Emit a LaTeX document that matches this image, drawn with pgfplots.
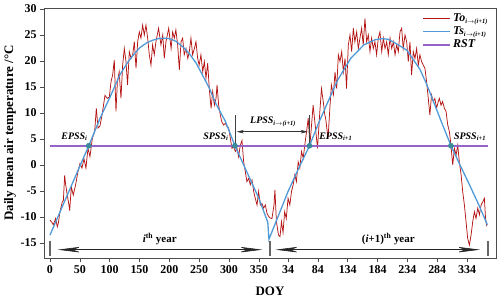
\documentclass[border=0pt]{standalone}
\usepackage{pgfplots}
\pgfplotsset{compat=1.18}
\usepackage{fontspec}
\setmainfont{Liberation Serif}
\usetikzlibrary{arrows.meta}
\definecolor{tored}{RGB}{180,20,20}
\definecolor{tsblue}{RGB}{80,155,215}
\definecolor{refline}{RGB}{150,100,200}
\definecolor{dotteal}{RGB}{58,138,154}
\newcommand{\sub}[1]{\textsubscript{\fontsize{6.5}{7}\selectfont #1}}
\begin{document}
\begin{tikzpicture}
\begin{axis}[
  at={(0,0)}, anchor=south west,
  scale only axis, width=452bp, height=250bp,
  xmin=-10, xmax=747.5, ymin=-17.9, ymax=30.2,
  clip=false,
  axis line style={draw=black!70, line width=0.8pt},
  tick align=outside, major tick length=4bp,
  tick style={black!70, line width=0.6pt},
  xtick pos=bottom, ytick pos=left,
  xtick={0,50,100,150,200,250,300,350,399,449,499,549,599,649,699},
  xticklabels={0,50,100,150,200,250,300,350,34,84,134,184,234,284,334},
  ytick={-15,-10,-5,0,5,10,15,20,25,30},
  ticklabel style={font=\fontsize{12}{14}\selectfont\bfseries},
  yticklabel style={/pgf/number format/assume math mode=true},
  xlabel={DOY},
  xlabel style={at={(axis description cs:0.5,-0.132)}, anchor=center, font=\fontsize{13}{15}\selectfont\bfseries},
  ylabel={Daily mean air temperature /°C},
  ylabel style={at={(axis description cs:-0.075,0.5)}, anchor=center, font=\fontsize{13}{15}\selectfont\bfseries},
  legend style={draw=none, fill=none, at={(axis description cs:0.83,0.995)}, anchor=north west,
    font=\fontsize{12}{14}\selectfont\bfseries\itshape, row sep=0pt},
  legend cell align=left,
]
\addlegendimage{legend image code/.code={\draw[tored, line width=1.1pt] (0bp,0bp) -- (27bp,0bp);}}
\addlegendentry{To\sub{i$\to$(i+1)}}
\addlegendimage{legend image code/.code={\draw[tsblue, line width=1.6pt] (0bp,0bp) -- (27bp,0bp);}}
\addlegendentry{Ts\sub{i$\to$(i+1)}}
\addlegendimage{legend image code/.code={\draw[refline, line width=1.8pt] (0bp,0bp) -- (27bp,0bp);}}
\addlegendentry{RST}
% observed daily temperature To
\addplot[draw=tored, line width=0.75pt, forget plot] coordinates {
(0,-10.6) (3,-11.0) (5.6,-11.5) (9.5,-10.3) (12.3,-11.9) (14,-11.2) (16.8,-9.0) (20.7,-7.1) (22.5,-6.8)
(24.6,-2.0) (26,-3.5) (28,-5.1) (31.8,-7.7) (33,-8.8) (35.8,-4.2) (39,-5.8) (43,-3.8) (46.9,-1.3)
(50.3,0.3) (53.6,-0.6) (57,1.2) (60.3,-0.6) (63.7,3.2) (67,1.6) (71,5.1) (74.9,6.4) (77.7,10.9)
(80.5,7.1) (83.8,7.5) (87.8,10.0) (92.2,13.4) (96,12.8) (99.5,13.1) (102.3,16.0) (105,17.3) (107.8,20.2)
(110.6,10.3) (113,16.0) (116,17.9) (119,12.8) (121.8,19.2) (124.6,22.4) (127.4,19.9) (130,15.4) (133,21.8)
(135.9,20.5) (138.6,21.2) (141.4,23.7) (144.2,18.6) (147,23.7) (149.7,25.6) (152.5,24.4) (155.3,26.9)
(158.1,25.0) (160.9,26.9) (163.7,24.4) (166.5,21.2) (169.3,19.2) (172,23.1) (174.8,21.2) (177.6,23.7)
(182,26.3) (186,23.1) (189,25.0) (191.6,20.5) (194.4,23.7) (199,26.3) (203,22.4) (205.6,25.6) (208.4,24.4)
(211,26.0) (214,23.1) (216.8,18.3) (219.6,23.7) (222.4,24.4) (225,21.2) (228,22.4) (231,20.5) (233.5,21.8)
(236.3,24.4) (239,21.2) (242,22.4) (244.7,23.7) (247.5,20.5) (250,19.2) (253,21.2) (256,17.9) (258.7,19.9)
(261.5,16.7) (264.3,19.6) (267,14.7) (270,10.9) (272.7,14.1) (275.5,11.5) (278.3,12.8) (280,15.4)
(282.7,11.5) (285.5,9.6) (288,8.3) (291,7.7) (293.9,8.0) (296.7,7.4) (299.5,7.1) (302.3,5.1) (305,3.2)
(307.9,3.5) (310.7,2.6) (313.5,3.2) (316,1.6) (319,3.8) (321.8,4.7) (324.6,0.6) (327.4,-1.3) (330,-3.2)
(333,-2.6) (335.8,-3.8) (338.6,-2.9) (341.4,-5.1) (344,-6.4) (347,-7.7) (349.7,-5.1) (352.5,-7.7)
(355.3,-7.4) (358,-8.3) (361,-7.7) (363.7,-9.3) (366.5,-9.9)
(369,-10.2) (372,-10.3) (375.5,-7.7) (377,-4.8) (379.5,-10.9) (383,-13.5) (385.5,-13.8) (388,-10.9)
(390.6,-13.0) (393.3,-9.0) (396,-10.3) (399,-6.4) (402,-7.7) (404.8,-5.1) (407.6,-3.8) (410.3,-1.9)
(413,-3.2) (416,0.6) (418.7,-0.6) (421.6,2.6) (424.4,1.3) (427,3.8) (430,6.4) (432.8,9.0) (435.6,3.8)
(438.4,7.7) (441,11.5) (443.9,8.3) (448.4,3.2) (452.3,10.3) (455,14.7) (458,12.2) (460.7,9.6) (462,9.0)
(466,5.1) (469.4,11.5) (471.6,15.4) (475,13.5) (477.7,17.9) (480.5,14.7) (483.3,21.2) (486,19.9)
(488.9,21.8) (491.7,17.9) (494.5,20.5) (497,14.7) (500,23.1) (502.8,25.0) (505.6,21.8) (508.4,26.3)
(511,23.7) (514,25.6) (516.7,22.4) (519.5,24.4) (522.3,26.3) (525,23.1) (527.9,28.2) (530.7,23.7)
(533.5,25.0) (536.3,21.8) (539,24.4) (541.8,22.4) (544.6,23.7) (547.4,21.2) (550.2,24.4) (553,25.6)
(556,21.8) (558.7,24.4) (561.5,22.4) (564.3,23.7) (567,21.2) (569.9,24.4) (572.7,22.4) (575.5,23.7)
(578.3,21.2) (581,23.1) (583.8,21.8) (586.6,25.6) (589.4,26.3) (592,22.4) (595,25.0) (597.8,23.7)
(600.5,19.9) (603.3,23.7) (606,17.3) (608.9,21.8) (611.7,20.5) (614.5,22.4) (617.3,19.2) (620,21.2)
(622.8,19.9) (625.6,19.2) (628.4,18.6) (631.2,16.0) (634,12.8) (636.7,9.6) (639.5,13.5) (642.3,12.2)
(645,12.8) (647.9,10.9) (650.7,12.2) (652.6,12.8) (655.4,11.5) (658,12.2) (661,10.9) (663.8,10.3)
(666.6,7.7) (669.4,6.4) (672,3.8) (675,0) (677.8,3.2) (680.6,1.9) (683.4,3.8) (686,0.6) (689,-1.9)
(691.7,-5.1) (694.5,-7.7) (697.3,-10.9) (700,-14.1) (702.9,-15.4) (705.7,-13.5) (708.5,-10.9)
(711.3,-9.0) (714,-10.3) (716.9,-8.3) (719.7,-9.6) (722.5,-7.7) (725.3,-7.1) (728,-6.4) (730,-10.3) (732,-11.8)
};
% simulated Ts
\addplot[draw=tsblue, line width=1.3pt, forget plot] coordinates {
(0,-13.5) (20,-8.2) (40,-2.9) (65,3.7) (84,9.0) (100,12.9) (117,17.3) (130,19.7) (140,21.2) (150,22.5)
(162,23.5) (172,24.0) (182,24.3) (191,24.4) (200,24.3) (211,23.8) (222,22.8) (233,21.5) (245,19.6)
(256,17.2) (267,14.8) (278,11.8) (294,8.4) (310,3.7) (327,-0.6) (350,-6.4) (365,-11.0)
(367,-14.3) (383,-9.7) (399,-5.1) (417,-0.6) (435,3.7) (450,8.0) (466,12.2) (482,16.3) (504,20.5)
(526,23.1) (545,24.1) (556,24.3) (566,24.2) (575,23.7) (598,22.1) (620,18.4) (631,15.6) (642,12.4)
(657,8.0) (672,3.7) (688,-0.2) (703,-3.8) (718,-7.5) (733,-11.5)
};
% reference temperature RST
\addplot[draw=refline, line width=1.8pt, forget plot] coordinates {(0,3.7) (734,3.7)};
\addplot[only marks, mark=*, mark size=2.6pt, mark options={fill=dotteal, draw=dotteal}, forget plot]
  coordinates {(65,3.7) (310,3.7) (435,3.7) (672,3.7)};
% phenology labels
\node[font=\fontsize{10}{12}\selectfont\bfseries\itshape] at (axis cs:41,5.4) {EPSS\sub{i}};
\node[font=\fontsize{10}{12}\selectfont\bfseries\itshape] at (axis cs:278,5.4) {SPSS\sub{i}};
\node[font=\fontsize{10}{12}\selectfont\bfseries\itshape] at (axis cs:479,5.4) {EPSS\sub{i+1}};
\node[font=\fontsize{10}{12}\selectfont\bfseries\itshape] at (axis cs:704,5.4) {SPSS\sub{i+1}};
% LPSS
\draw[black!75, line width=0.6pt] (axis cs:310,3.9) -- (axis cs:310,9.6);
\draw[black!75, line width=0.6pt] (axis cs:435,3.9) -- (axis cs:435,9.6);
\draw[black!80, line width=0.5pt, {Stealth[length=7bp,width=3.5bp,inset=2bp]}-{Stealth[length=7bp,width=3.5bp,inset=2bp]}]
  (axis cs:313,6.4) -- (axis cs:432,6.4);
\node[font=\fontsize{10}{12}\selectfont\bfseries\itshape, fill=white, inner sep=0.5pt] at (axis cs:374,8.3) {LPSS\sub{i$\to$(i+1)}};
% years
\draw[black!60, line width=1.6pt] (axis cs:0,-14.6) -- (axis cs:0,-17.5);
\draw[black!60, line width=1.6pt] (axis cs:369,-14.6) -- (axis cs:369,-17.5);
\draw[black!60, line width=1.6pt] (axis cs:734,-14.6) -- (axis cs:734,-17.5);
\draw[black!85, line width=0.6pt, {Stealth[length=24bp,width=6bp,inset=9bp]}-{Stealth[length=24bp,width=6bp,inset=9bp]}]
  (axis cs:13,-16.3) -- (axis cs:356,-16.3);
\draw[black!85, line width=0.6pt, {Stealth[length=24bp,width=6bp,inset=9bp]}-{Stealth[length=24bp,width=6bp,inset=9bp]}]
  (axis cs:378,-16.3) -- (axis cs:721,-16.3);
\node[font=\fontsize{11}{13}\selectfont\bfseries] at (axis cs:184,-14.3) {\textit{i}\textsuperscript{th} year};
\node[font=\fontsize{11}{13}\selectfont\bfseries] at (axis cs:567,-14.3) {(\textit{i}+1)\textsuperscript{th} year};
\end{axis}
\pgfresetboundingbox
\path[use as bounding box] (-44bp,-43bp) rectangle (456bp,258bp);
\end{tikzpicture}
\end{document}
